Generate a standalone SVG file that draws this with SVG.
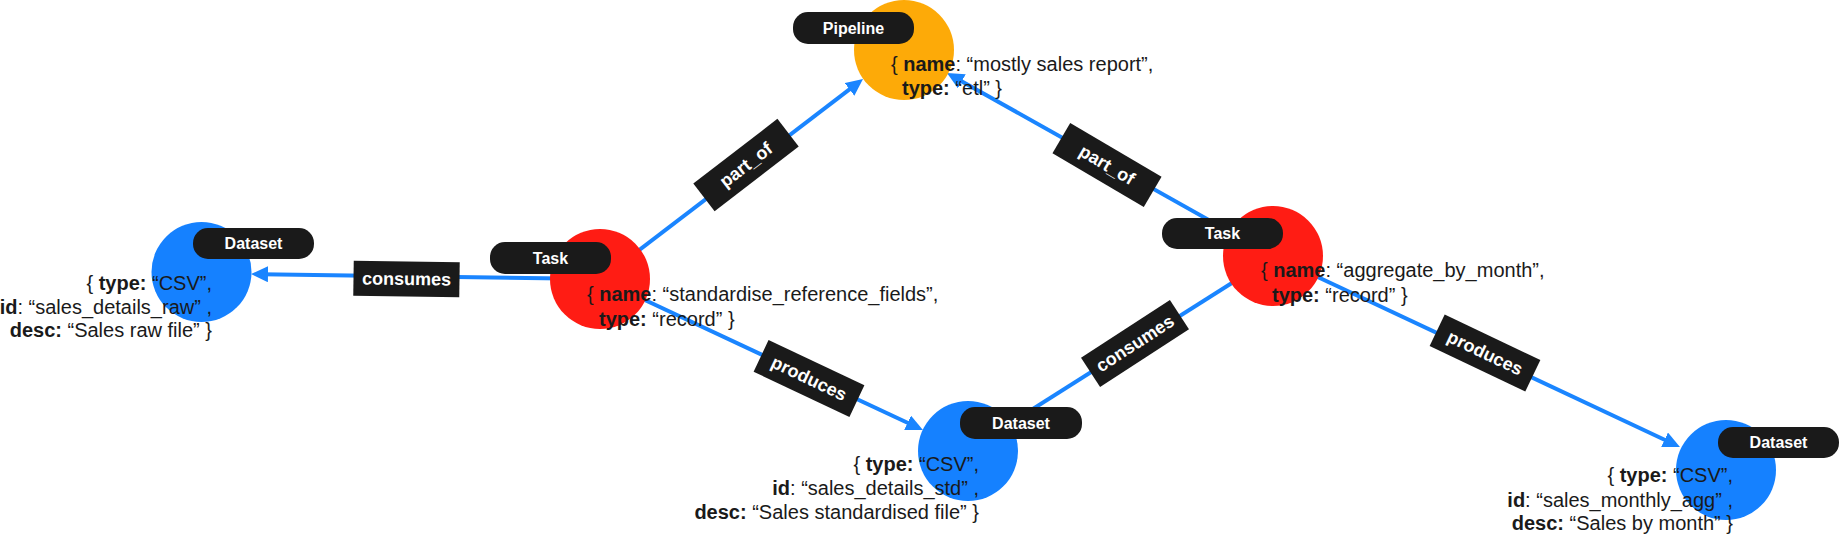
<svg xmlns="http://www.w3.org/2000/svg" width="1839" height="537" viewBox="0 0 1839 537">
<defs>
<style>
.edge{stroke:#1a85ff;stroke-width:4;fill:none}
.lbl rect{fill:#1a1a1a}
.lbl text{fill:#fff;font-family:"Liberation Sans",Arial,sans-serif;font-weight:bold;font-size:18px;text-anchor:middle}
.pill{fill:#1a1a1a}
.ptxt{fill:#fff;font-family:"Liberation Sans",Arial,sans-serif;font-weight:bold;font-size:16px;text-anchor:middle}
.prop{fill:#1a1a1a;font-family:"Liberation Sans",Arial,sans-serif;font-size:20px}
.b{font-weight:bold}
.end{text-anchor:end}
.ds{fill:#1581ff}
.task{fill:#ff1c14}
.pipe{fill:#fdaa08}
</style>
<marker id="arr" markerUnits="userSpaceOnUse" markerWidth="17" markerHeight="16" refX="7" refY="8" orient="auto">
<path d="M0,0 L17,8 L0,16 z" fill="#1a85ff"/>
</marker>
</defs>
<rect width="1839" height="537" fill="#fff"/>
<g id="connectors">
<line class="edge" x1="600" y1="280" x2="855.05" y2="85.07" marker-end="url(#arr)"/>
<line class="edge" x1="1273" y1="256" x2="955.7" y2="77.9" marker-end="url(#arr)"/>
<line class="edge" x1="600" y1="279" x2="261" y2="274.14" marker-end="url(#arr)"/>
<line class="edge" x1="600" y1="279" x2="913.9" y2="425.8" marker-end="url(#arr)"/>
<line class="edge" x1="968" y1="450" x2="1273" y2="257"/>
<line class="edge" x1="1273" y1="256" x2="1670.9" y2="442.75" marker-end="url(#arr)"/>
<g class="lbl" transform="translate(746,165) rotate(-37.5)"><rect x="-53" y="-17.5" width="106" height="35"/><text y="6">part_of</text></g>
<g class="lbl" transform="translate(1107,165) rotate(30.5)"><rect x="-53" y="-17.5" width="106" height="35"/><text y="6">part_of</text></g>
<g class="lbl" transform="translate(406.5,279) rotate(0.8)"><rect x="-53" y="-17.5" width="106" height="35"/><text y="6">consumes</text></g>
<g class="lbl" transform="translate(809,378.5) rotate(25.3)"><rect x="-53" y="-17.5" width="106" height="35"/><text y="6">produces</text></g>
<g class="lbl" transform="translate(1135,343.5) rotate(-33)"><rect x="-53" y="-17.5" width="106" height="35"/><text y="6">consumes</text></g>
<g class="lbl" transform="translate(1485,353) rotate(25.5)"><rect x="-53" y="-17.5" width="106" height="35"/><text y="6">produces</text></g>
</g>
<g id="pipeline">
<circle class="pipe" cx="904" cy="50" r="50"/>
<rect class="pill" x="793" y="12" width="121" height="32" rx="15"/>
<text class="ptxt" x="853.5" y="33.5">Pipeline</text>
<text class="prop" x="891" y="71">{ <tspan class="b">name</tspan>: “mostly sales report”,</text>
<text class="prop" x="902" y="95"><tspan class="b">type:</tspan> “etl” }</text>
</g>
<g id="task1">
<circle class="task" cx="600" cy="279" r="50"/>
<rect class="pill" x="490" y="242" width="121" height="32" rx="15"/>
<text class="ptxt" x="550.5" y="263.5">Task</text>
<text class="prop" x="587" y="301">{ <tspan class="b">name</tspan>: “standardise_reference_fields”,</text>
<text class="prop" x="599" y="326"><tspan class="b">type:</tspan> “record” }</text>
</g>
<g id="task2">
<circle class="task" cx="1273" cy="256" r="50"/>
<rect class="pill" x="1162" y="218" width="121" height="31" rx="15"/>
<text class="ptxt" x="1222.5" y="239">Task</text>
<text class="prop" x="1261" y="277">{ <tspan class="b">name</tspan>: “aggregate_by_month”,</text>
<text class="prop" x="1272" y="302"><tspan class="b">type:</tspan> “record” }</text>
</g>
<g id="dataset1">
<circle class="ds" cx="201.5" cy="272" r="50"/>
<rect class="pill" x="193" y="228" width="121" height="31" rx="15"/>
<text class="ptxt" x="253.5" y="249">Dataset</text>
<text class="prop end" x="212" y="290">{ <tspan class="b">type:</tspan> “CSV”,</text>
<text class="prop end" x="212" y="313.5"><tspan class="b">id</tspan>: “sales_details_raw” ,</text>
<text class="prop end" x="212" y="337"><tspan class="b">desc:</tspan> “Sales raw file” }</text>
</g>
<g id="dataset2">
<circle class="ds" cx="968" cy="451" r="50"/>
<rect class="pill" x="960" y="407" width="122" height="32" rx="15"/>
<text class="ptxt" x="1021" y="428.5">Dataset</text>
<text class="prop end" x="979" y="471">{ <tspan class="b">type:</tspan> “CSV”,</text>
<text class="prop end" x="979" y="495"><tspan class="b">id</tspan>: “sales_details_std” ,</text>
<text class="prop end" x="979" y="519"><tspan class="b">desc:</tspan> “Sales standardised file” }</text>
</g>
<g id="dataset3">
<circle class="ds" cx="1726" cy="470" r="50"/>
<rect class="pill" x="1718" y="427" width="121" height="31" rx="15"/>
<text class="ptxt" x="1778.5" y="448">Dataset</text>
<text class="prop end" x="1733" y="482">{ <tspan class="b">type:</tspan> “CSV”,</text>
<text class="prop end" x="1733" y="507"><tspan class="b">id</tspan>: “sales_monthly_agg” ,</text>
<text class="prop end" x="1733" y="530"><tspan class="b">desc:</tspan> “Sales by month” }</text>
</g>
</svg>
